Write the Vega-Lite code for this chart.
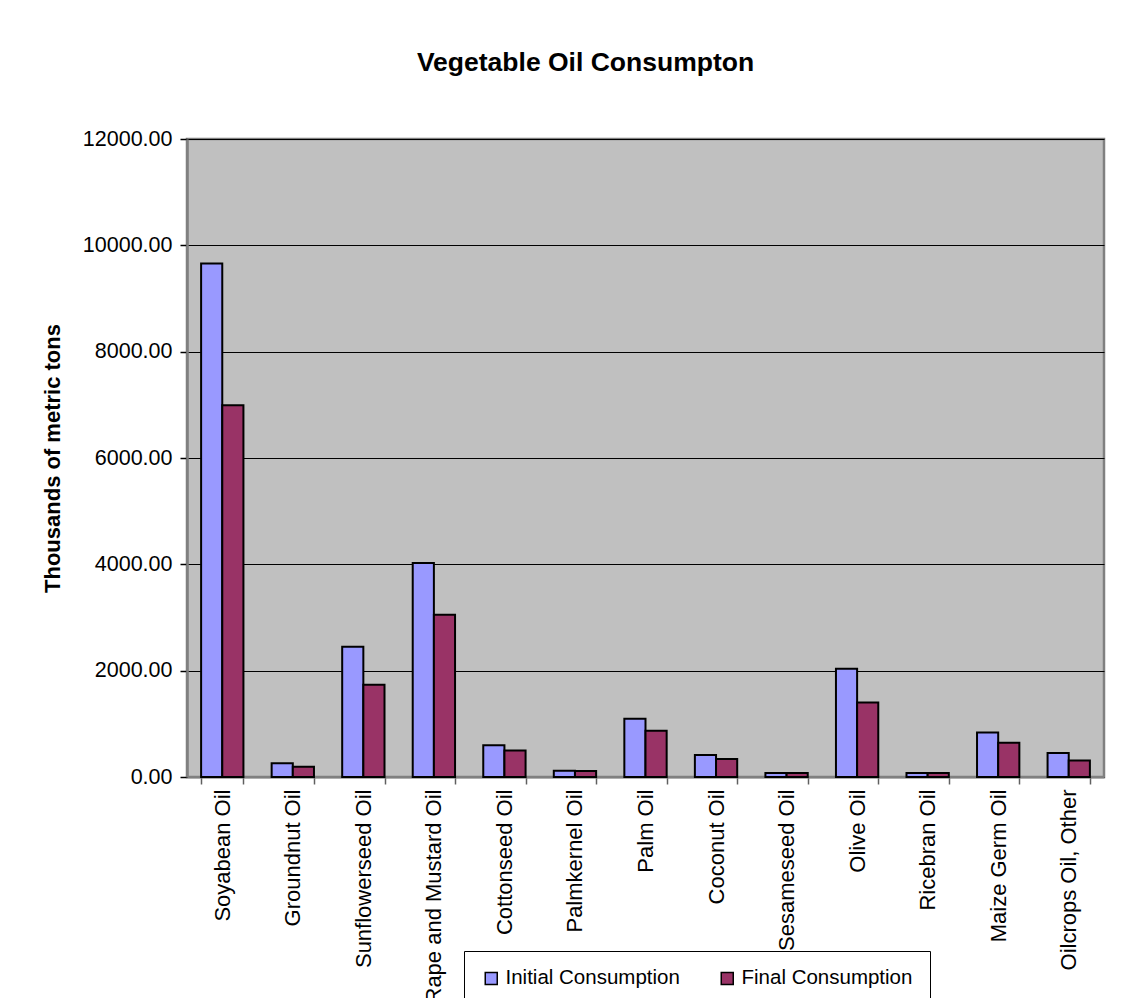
{
  "$schema": "https://vega.github.io/schema/vega-lite/v6.json",
  "autosize": "none",
  "width": 917,
  "height": 638,
  "padding": {"left": 187, "top": 139, "right": 18, "bottom": 221},
  "background": "white",
  "title": {"text": "Vegetable Oil Consumpton", "font": "Liberation Sans", "fontSize": 26.5, "fontWeight": "bold", "color": "black", "anchor": "middle", "dx": -60, "offset": 52},
  "config": {
    "font": "Liberation Sans",
    "view": {"fill": "#C0C0C0", "stroke": "#808080", "strokeWidth": 2.5}
  },
  "data": {"values": [
    {"oil": "Soyabean Oil", "series": "Initial Consumption", "value": 9656},
    {"oil": "Soyabean Oil", "series": "Final Consumption", "value": 6990},
    {"oil": "Groundnut Oil", "series": "Initial Consumption", "value": 260},
    {"oil": "Groundnut Oil", "series": "Final Consumption", "value": 195},
    {"oil": "Sunflowerseed Oil", "series": "Initial Consumption", "value": 2448},
    {"oil": "Sunflowerseed Oil", "series": "Final Consumption", "value": 1734},
    {"oil": "Rape and Mustard Oil", "series": "Initial Consumption", "value": 4026},
    {"oil": "Rape and Mustard Oil", "series": "Final Consumption", "value": 3052},
    {"oil": "Cottonseed Oil", "series": "Initial Consumption", "value": 597},
    {"oil": "Cottonseed Oil", "series": "Final Consumption", "value": 497},
    {"oil": "Palmkernel Oil", "series": "Initial Consumption", "value": 119},
    {"oil": "Palmkernel Oil", "series": "Final Consumption", "value": 115},
    {"oil": "Palm Oil", "series": "Initial Consumption", "value": 1094},
    {"oil": "Palm Oil", "series": "Final Consumption", "value": 868},
    {"oil": "Coconut Oil", "series": "Initial Consumption", "value": 415},
    {"oil": "Coconut Oil", "series": "Final Consumption", "value": 340},
    {"oil": "Sesameseed Oil", "series": "Initial Consumption", "value": 75},
    {"oil": "Sesameseed Oil", "series": "Final Consumption", "value": 75},
    {"oil": "Olive Oil", "series": "Initial Consumption", "value": 2038},
    {"oil": "Olive Oil", "series": "Final Consumption", "value": 1403},
    {"oil": "Ricebran Oil", "series": "Initial Consumption", "value": 75},
    {"oil": "Ricebran Oil", "series": "Final Consumption", "value": 75},
    {"oil": "Maize Germ Oil", "series": "Initial Consumption", "value": 836},
    {"oil": "Maize Germ Oil", "series": "Final Consumption", "value": 642},
    {"oil": "Oilcrops Oil, Other", "series": "Initial Consumption", "value": 453},
    {"oil": "Oilcrops Oil, Other", "series": "Final Consumption", "value": 308}
  ]},
  "mark": {"type": "bar", "stroke": "black", "strokeWidth": 2},
  "encoding": {
    "x": {
      "field": "oil", "type": "nominal", "sort": null,
      "scale": {"paddingInner": 0.4, "paddingOuter": 0.2},
      "axis": {
        "title": null, "labelAngle": -90, "labelAlign": "right", "labelBaseline": "middle",
        "labelFontSize": 22, "labelColor": "black", "labelPadding": 5, "labelLimit": 400,
        "tickBand": "extent", "tickSize": 7, "tickColor": "#606060", "tickWidth": 1.5, "domainColor": "#808080", "domainWidth": 2, "grid": false
      }
    },
    "xOffset": {"field": "series", "type": "nominal", "scale": {"domain": ["Initial Consumption", "Final Consumption"], "paddingInner": 0, "paddingOuter": 0}},
    "y": {
      "field": "value", "type": "quantitative",
      "scale": {"domain": [0, 12000]},
      "axis": {
        "title": "Thousands of metric tons", "titleFontSize": 22, "titleFontWeight": "bold", "titleColor": "black", "titlePadding": 18,
        "values": [0, 2000, 4000, 6000, 8000, 10000, 12000], "format": ".2f",
        "labelFontSize": 21.5, "labelColor": "black", "labelPadding": 8,
        "tickSize": 7, "tickColor": "black", "tickWidth": 1.5, "domainColor": "#808080", "domainWidth": 2.5,
        "grid": true, "gridColor": "black", "gridWidth": 1.2
      }
    },
    "color": {
      "field": "series", "type": "nominal",
      "scale": {"domain": ["Initial Consumption", "Final Consumption"], "range": ["#9999FF", "#993366"]},
      "legend": {
        "title": null, "orient": "none", "direction": "horizontal", "legendX": 277, "legendY": 812,
        "fillColor": "white", "strokeColor": "black", "padding": 17,
        "symbolType": "square", "symbolSize": 144, "symbolStrokeColor": "black", "symbolStrokeWidth": 1.5,
        "labelFontSize": 20.5, "labelColor": "black", "columnPadding": 37, "labelOffset": 4, "labelLimit": 300
      }
    }
  }
}
